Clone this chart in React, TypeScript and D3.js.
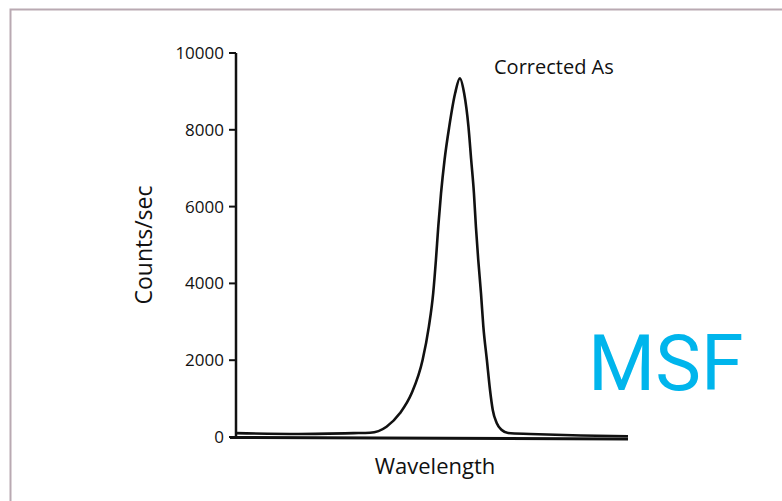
import React from 'react';
import * as d3 from 'd3';

// wavelength is in arbitrary units (no ticks on the x axis)
const wavelength = [0, 16, 30, 34.2, 38.4, 41.8, 44.8, 47.6, 49.2, 50.3, 51.0, 51.6, 52.3, 53.2, 54.4, 55.9, 57.1,
    58.2, 59.3, 60.0, 60.7, 61.2, 61.8, 62.5, 63.1, 64.0, 64.8, 65.5, 66.5, 67.8, 69.4, 75, 88, 100];
const counts = [100, 80, 100, 110, 268, 616, 1138, 2005, 2873, 3741, 4609, 5477, 6345, 7214, 8082, 8950, 9340,
    8950, 8082, 7214, 6345, 5477, 4609, 3741, 2873, 2005, 1224, 703, 365, 182, 104, 80, 40, 20];
const yTicks = [0, 2000, 4000, 6000, 8000, 10000];

const W = 782;
const H = 501;
const font = "'Open Sans', 'Noto Sans', sans-serif";

export default function App() {
    const x = d3.scaleLinear().domain([0, 100]).range([236, 628]);
    const y = d3.scaleLinear().domain([0, 10000]).range([437, 53]);

    const line = d3.line<number>()
        .x((d, i) => x(wavelength[i]))
        .y((d) => y(d))
        .curve(d3.curveMonotoneX);

    return (
        <div style={{ position: 'fixed', left: 0, top: 0 }}>
            <svg width={W} height={H} style={{ display: 'block', background: '#fff' }}>
                {/* frame */}
                <path d={`M10.5,${H} V9.5 H${W}`} fill='none' stroke='#b9a9b2' strokeWidth={2} />

                {/* y axis */}
                <line x1={x(0)} x2={x(0)} y1={y(10000)} y2={y(0)} stroke='#111' strokeWidth={2.5} />
                {yTicks.map((t) => (
                    <g key={t}>
                        <line x1={x(0) - 7} x2={x(0)} y1={y(t)} y2={y(t)} stroke='#111' strokeWidth={2} />
                        <text x={x(0) - 12} y={y(t)} dy='0.35em' textAnchor='end' fontFamily={font} fontSize={17} fill='#111'>
                            {t}
                        </text>
                    </g>
                ))}

                {/* x axis */}
                <line x1={x(0) - 6} x2={x(100)} y1={y(0) + 0.5} y2={y(0) + 2} stroke='#111' strokeWidth={3} />

                {/* spectrum */}
                <path d={line(counts) || ''} fill='none' stroke='#111' strokeWidth={2.6} strokeLinejoin='round' />

                <text transform={`translate(152,245) rotate(-90)`} textAnchor='middle' fontFamily={font} fontSize={23} fill='#111'>
                    Counts/sec
                </text>
                <text x={435} y={474} textAnchor='middle' fontFamily={font} fontSize={22} fill='#111'>
                    Wavelength
                </text>
                <text x={494} y={74} fontFamily={font} fontSize={20} fill='#111'>
                    Corrected As
                </text>
                <text x={588} y={390} fontFamily="Roboto, 'Noto Sans', sans-serif" fontSize={77} fill='#00b5ec'>
                    MSF
                </text>
            </svg>
        </div>
    );
}
